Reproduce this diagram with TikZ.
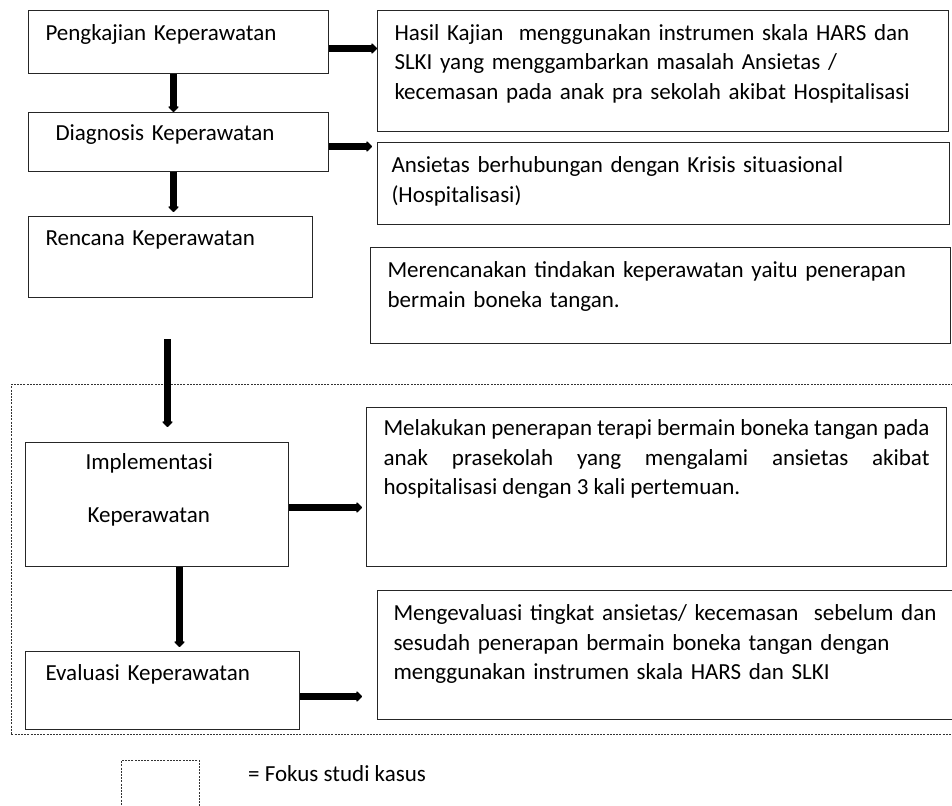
\documentclass[tikz,border=0pt]{standalone}
\usepackage{fontspec}
\setmainfont{Carlito}
\usetikzlibrary{positioning,arrows.meta}
\newcommand{\fs}{\fontsize{23}{29.5}\selectfont}

\begin{document}
\begin{tikzpicture}[x=1pt, y=-1pt,
  box/.style={draw=black!85, line width=1pt, anchor=north west,
              inner ysep=0pt, align=left, font=\fs},
  fokus/.style={draw=black!80, line width=0.8pt,
                dash pattern=on 2pt off 1.2pt, anchor=north west, inner sep=0pt},
  arr/.style={-{Triangle[width=12pt,length=6pt,round]}, line width=7pt},
  lbl/.style={font=\fs, anchor=base west, inner sep=0pt},
]
\useasboundingbox (0,0) rectangle (952,805);

% ---- Focus frame ----
\node[fokus, minimum width=960pt, minimum height=350pt] (frame) at (11,384) {};

% ---- Left column: nursing process ----
\node[box, text width=266pt, inner xsep=17pt, text height=30pt, text depth=33pt]
  (kaji) at (28,10) {Pengkajian Keperawatan};
\node[box, text width=246pt, inner xsep=27pt, text height=28pt, text depth=31pt]
  (diag) at (28,112) {Diagnosis Keperawatan};
\node[box, text width=250pt, inner xsep=17pt, text height=29pt, text depth=52pt]
  (renc) at (28,216) {Rencana Keperawatan};
\node[box, text width=143pt, inner xsep=60pt, text height=27pt, text depth=97pt]
  (impl) at (25,442) {Implementasi\\[23.5pt]\hspace*{2pt}Keperawatan};
\node[box, text width=234pt, inner xsep=20pt, text height=29pt, text depth=49pt]
  (eval) at (25,651) {Evaluasi Keperawatan};

% ---- Right column: contents ----
\node[box, text width=537pt, inner xsep=17pt, text height=30pt, text depth=91pt]
  (hasil) at (377,10)
  {Hasil Kajian\ \ menggunakan instrumen skala HARS dan\\
   SLKI yang menggambarkan masalah Ansietas /\\
   kecemasan pada anak pra sekolah akibat Hospitalisasi};
\node[box, text width=544pt, inner xsep=14pt, text height=30pt, text depth=52pt]
  (ansi) at (377,142)
  {Ansietas berhubungan dengan Krisis situasional\\
   (Hospitalisasi)};
\node[box, text width=546pt, inner xsep=17pt, text height=30pt, text depth=66pt]
  (tind) at (370,247)
  {Merencanakan tindakan keperawatan yaitu penerapan\\
   bermain boneka tangan.};
\node[box, align=justify, text width=546pt, inner xsep=17pt, text height=28pt, text depth=131pt]
  (melak) at (366,407)
  {Melakukan penerapan terapi bermain boneka tangan pada\linebreak
   anak prasekolah yang mengalami ansietas akibat\linebreak
   hospitalisasi dengan 3 kali pertemuan.};
\node[box, text width=568pt, inner xsep=16pt, text height=30pt, text depth=99pt]
  (mengev) at (377,590)
  {Mengevaluasi tingkat ansietas/ kecemasan\ \ sebelum dan\\
   sesudah penerapan bermain boneka tangan dengan\\
   menggunakan instrumen skala HARS dan SLKI};

% ---- Arrows ----
\draw[arr] ([xshift=-5pt]kaji.south) -- ([xshift=-5pt]diag.north);
\draw[arr] ([xshift=-5pt]diag.south) -- ([xshift=-5pt,yshift=4pt]diag.south |- renc.north);
\draw[arr] ([yshift=-6.5pt]kaji.east) -- ([yshift=-6.5pt]kaji.east -| hasil.west);
\draw[arr] ([yshift=-4.5pt]diag.east) -- ([xshift=-5pt,yshift=-4.5pt]diag.east -| ansi.west);
\coordinate (m1) at ([xshift=-3pt,yshift=-41pt]renc.south);
\draw[arr] (m1) -- ([yshift=15pt]impl.north -| m1);
\draw[arr] ([xshift=22.5pt]impl.south) -- ([xshift=22.5pt,yshift=4pt]impl.south |- eval.north);
\draw[arr] ([yshift=-3pt]impl.east) -- ([xshift=-4pt,yshift=-3pt]impl.east -| melak.west);
\draw[arr] ([yshift=-6pt]eval.east) -- ([xshift=-15pt,yshift=-6pt]eval.east -| mengev.west);

% ---- Legend ----
\node[fokus, minimum width=78pt, minimum height=48pt] (legbox) at (121,760) {};
\node[lbl] (legtxt) at (248,781) {= Fokus studi kasus};

\end{tikzpicture}
\end{document}
